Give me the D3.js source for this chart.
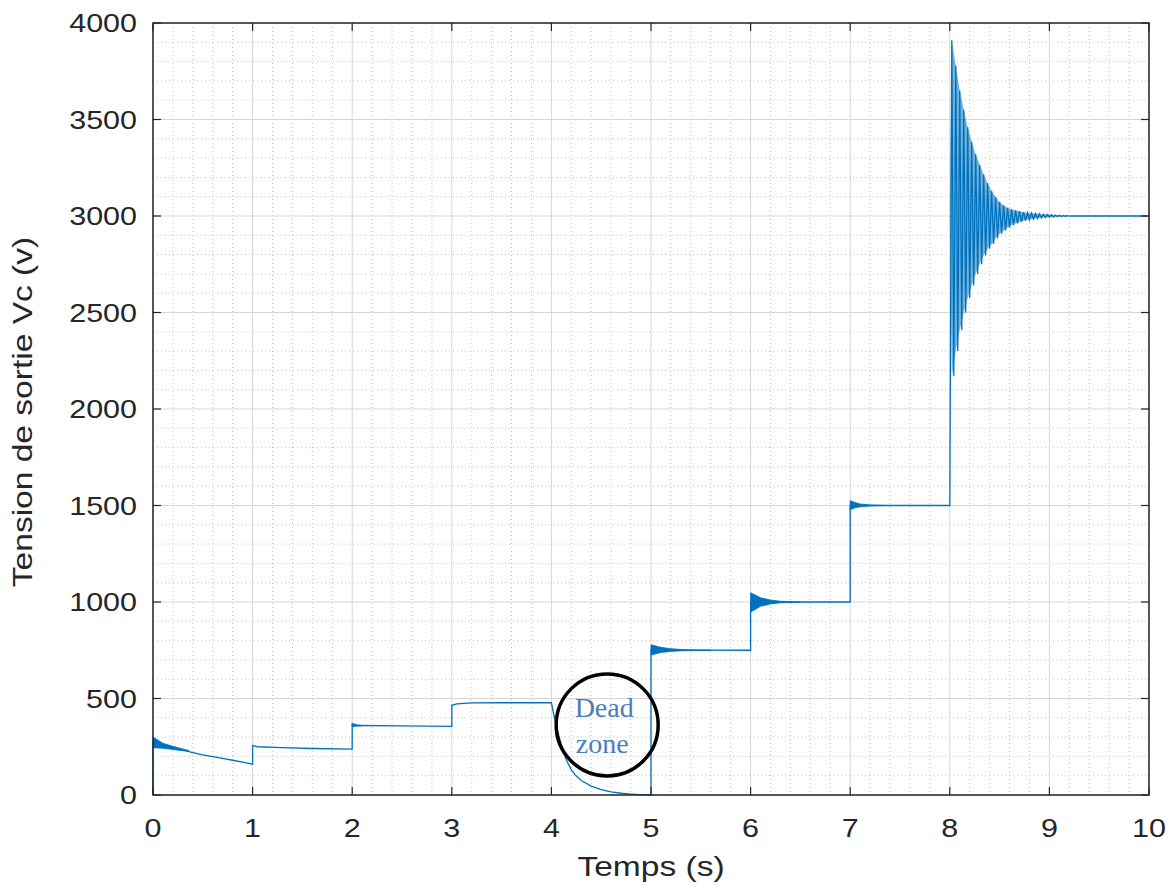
<!DOCTYPE html>
<html>
<head>
<meta charset="utf-8">
<script src="https://cdn.jsdelivr.net/npm/d3@7"></script>
<style>
  body { margin: 0; background: #fff; }
  text { font-family: "Liberation Sans", Arial, sans-serif; fill: #262626; }
</style>
</head>
<body>
<div id="chart"></div>
<script>
// ticks
const xTicks = [0, 1, 2, 3, 4, 5, 6, 7, 8, 9, 10];
const yTicks = [0, 500, 1000, 1500, 2000, 2500, 3000, 3500, 4000];

// main trace [t, V] (centre line)
const traceA = [[0, 0], [0, 272], [0.1, 254], [0.2, 243], [0.3, 233], [0.4, 220], [0.5, 208],
  [0.6, 199], [0.7, 190], [0.8, 180], [0.9, 170], [1.0, 160],
  [1.0, 256], [1.05, 250], [1.3, 245], [1.6, 241], [2.0, 238],
  [2.0, 366], [2.05, 360], [2.5, 358], [3.0, 356],
  [3.0, 465], [3.05, 472], [3.2, 477], [3.5, 478], [4.0, 478],
  [4.02, 425], [4.05, 354], [4.1, 260], [4.15, 181], [4.2, 130], [4.25, 98], [4.3, 75],
  [4.4, 46], [4.5, 28], [4.6, 16], [4.7, 9], [4.8, 5], [4.9, 2], [5.0, 0],
  [5.0, 752], [5.5, 751], [6.0, 750],
  [6.0, 998], [6.5, 1000], [7.0, 1000],
  [7.0, 1500], [7.5, 1500], [8.0, 1500]];

// oscillation at t = 8 s : peak and trough values
const peakT = [8.02, 8.06, 8.10, 8.14, 8.18, 8.22, 8.26, 8.30, 8.34, 8.38, 8.42, 8.46, 8.50, 8.54, 8.58,
  8.62, 8.66, 8.70, 8.74, 8.78, 8.82, 8.86, 8.90, 8.94, 8.98, 9.02, 9.06, 9.10, 9.14, 9.18];
const peakV = [3910, 3780, 3650, 3550, 3460, 3385, 3320, 3265, 3215, 3170, 3130, 3098, 3072, 3055, 3043,
  3035, 3029, 3024, 3020, 3017, 3015, 3013, 3011, 3009, 3008, 3006, 3005, 3004, 3003, 3002];
const troughT = [8.04, 8.08, 8.12, 8.16, 8.20, 8.24, 8.28, 8.32, 8.36, 8.40, 8.44, 8.48, 8.52, 8.56, 8.60,
  8.64, 8.68, 8.72, 8.76, 8.80, 8.84, 8.88, 8.92, 8.96, 9.00, 9.04, 9.08, 9.12, 9.16, 9.20];
const troughV = [2170, 2300, 2410, 2500, 2575, 2640, 2700, 2750, 2795, 2830, 2855, 2885, 2908, 2925, 2940,
  2952, 2962, 2970, 2976, 2980, 2984, 2987, 2990, 2992, 2994, 2995, 2996, 2997, 2998, 2999];
const traceEnd = [[9.22, 3000], [10, 3000]];

// dense ripple envelopes [t, upper, lower]
const ripple0 = [[0.0, 300, 245], [0.1, 268, 242], [0.2, 252, 236], [0.3, 238, 229], [0.36, 231, 229]];
const ripple2 = [[2.0, 372, 354], [2.05, 363, 357], [2.1, 359, 358]];
const ripple5 = [[5.0, 778, 725], [5.1, 765, 738], [5.2, 758, 744], [5.3, 754, 747], [5.45, 751, 749], [5.6, 751, 750]];
const ripple6 = [[6.0, 1048, 948], [6.05, 1035, 962], [6.1, 1022, 978], [6.2, 1010, 990], [6.3, 1004, 996], [6.5, 1000, 1000]];
const ripple7 = [[7.0, 1525, 1478], [7.05, 1515, 1488], [7.1, 1508, 1493], [7.2, 1503, 1498], [7.35, 1500, 1500]];

const W = 1173, H = 893;
const margin = {top: 23, right: 24, bottom: 98, left: 153};
const width = W - margin.left - margin.right,
      height = H - margin.top - margin.bottom;
const lineColor = "#0072bd";
const stretch = 1.22;   // the reference text is wide

const svg = d3.select("#chart")
  .append("svg")
    .attr("width", W)
    .attr("height", H)
  .append("g")
    .attr("transform", `translate(${margin.left},${margin.top})`);

const x = d3.scaleLinear().domain([0, 10]).range([0, width]);
const y = d3.scaleLinear().domain([0, 4000]).range([height, 0]);

// minor grid (dotted)
const minorX = d3.range(0, 10.001, 0.2).filter(v => Math.abs(v - Math.round(v)) > 1e-6);
const minorY = d3.range(0, 4000.1, 100).filter(v => v % 500 != 0);
svg.append("g").selectAll("line").data(minorX).join("line")
  .attr("x1", d => x(d)).attr("x2", d => x(d)).attr("y1", 0).attr("y2", height)
  .attr("stroke", "#c2c2c2").attr("stroke-dasharray", "1,3");
svg.append("g").selectAll("line").data(minorY).join("line")
  .attr("y1", d => y(d)).attr("y2", d => y(d)).attr("x1", 0).attr("x2", width)
  .attr("stroke", "#c2c2c2").attr("stroke-dasharray", "1,3");

// major grid
svg.append("g").selectAll("line").data(xTicks).join("line")
  .attr("x1", d => x(d)).attr("x2", d => x(d)).attr("y1", 0).attr("y2", height)
  .attr("stroke", "#d6d6d6");
svg.append("g").selectAll("line").data(yTicks).join("line")
  .attr("y1", d => y(d)).attr("y2", d => y(d)).attr("x1", 0).attr("x2", width)
  .attr("stroke", "#d6d6d6");

// data
const line = d3.line().x(d => x(d[0])).y(d => y(d[1]));
const zig = [[8.0, 1500]];
peakT.forEach((t, i) => {
  zig.push([t, peakV[i]]);
  zig.push([troughT[i], troughV[i]]);
});
const full = traceA.concat(zig, traceEnd);

const area = d3.area().x(d => x(d[0])).y0(d => y(d[2])).y1(d => y(d[1]));
[ripple0, ripple2, ripple5, ripple6, ripple7].forEach(r => {
  svg.append("path").datum(r).attr("d", area)
    .attr("fill", lineColor).attr("stroke", lineColor).attr("stroke-width", 0.8);
});

// envelope of the 8 s oscillation, lightly filled behind the zigzag
const env8 = peakT.map((t, i) => [t, peakV[i], troughV[i]]);
env8.unshift([8.0, 3000, 3000]);
svg.append("path").datum(env8).attr("d", area)
  .attr("fill", lineColor).attr("fill-opacity", 0.55);

svg.append("path").datum(full)
  .attr("d", line)
  .attr("fill", "none")
  .attr("stroke", lineColor)
  .attr("stroke-width", 1.3);

// inside ticks on all four sides
const tickLen = 8;
const ticks = svg.append("g").attr("stroke", "#262626").attr("stroke-width", 1.2);
xTicks.forEach(d => {
  ticks.append("line").attr("x1", x(d)).attr("x2", x(d)).attr("y1", height).attr("y2", height - tickLen);
  ticks.append("line").attr("x1", x(d)).attr("x2", x(d)).attr("y1", 0).attr("y2", tickLen);
});
yTicks.forEach(d => {
  ticks.append("line").attr("y1", y(d)).attr("y2", y(d)).attr("x1", 0).attr("x2", tickLen);
  ticks.append("line").attr("y1", y(d)).attr("y2", y(d)).attr("x1", width).attr("x2", width - tickLen);
});

svg.append("rect")
  .attr("width", width).attr("height", height)
  .attr("fill", "none").attr("stroke", "#262626").attr("stroke-width", 1.5);

// tick labels
svg.append("g").selectAll("text").data(xTicks).join("text")
  .attr("transform", d => `translate(${x(d)},${height + 42}) scale(${stretch},1)`)
  .attr("text-anchor", "middle")
  .style("font-size", "25px")
  .text(d => d);
svg.append("g").selectAll("text").data(yTicks).join("text")
  .attr("transform", d => `translate(-16,${y(d) + 9}) scale(${stretch},1)`)
  .attr("text-anchor", "end")
  .style("font-size", "25px")
  .text(d => d);

// axis titles
svg.append("text")
  .attr("transform", `translate(${width / 2},${height + 81}) scale(${stretch},1)`)
  .attr("text-anchor", "middle")
  .style("font-size", "27.5px")
  .text("Temps (s)");
svg.append("text")
  .attr("transform", `translate(${-121},${height / 2 + 3}) rotate(-90) scale(${stretch},1)`)
  .attr("text-anchor", "middle")
  .style("font-size", "27.5px")
  .text("Tension de sortie Vc (v)");

// dead zone annotation
svg.append("circle")
  .attr("cx", x(4.56)).attr("cy", y(363)).attr("r", 51)
  .attr("fill", "none").attr("stroke", "#000").attr("stroke-width", 3.5);
svg.append("text")
  .attr("x", x(4.53)).attr("y", y(405))
  .attr("text-anchor", "middle")
  .style("font-family", "'Liberation Serif', 'Times New Roman', serif")
  .style("font-size", "28px").style("fill", "#4a7ebb")
  .text("Dead");
svg.append("text")
  .attr("x", x(4.51)).attr("y", y(218))
  .attr("text-anchor", "middle")
  .style("font-family", "'Liberation Serif', 'Times New Roman', serif")
  .style("font-size", "28px").style("fill", "#4a7ebb")
  .text("zone");
</script>
</body>
</html>
